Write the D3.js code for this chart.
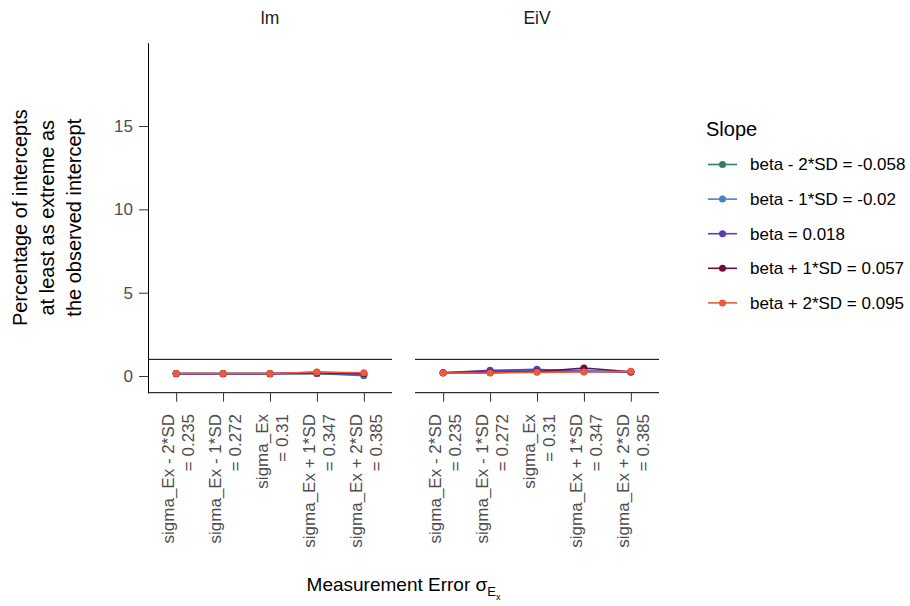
<!DOCTYPE html>
<html lang="en">
<head>
  <meta charset="utf-8">
  <title>Percentage of intercepts at least as extreme as observed</title>
  <script src="https://d3js.org/d3.v7.min.js"></script>
  <style>
    body { margin: 0; background: #fff; }
    text { font-family: "Liberation Sans", Arial, sans-serif; }
  </style>
</head>
<body>
  <div id="chart"></div>
  <script>
    // facet panels and x categories (measurement error levels)
    const panels = ["lm", "EiV"];
    const errLevels = ["m2", "m1", "mid", "p1", "p2"];
    const errLabels = [
      ["sigma_Ex - 2*SD", "= 0.235"],
      ["sigma_Ex - 1*SD", "= 0.272"],
      ["sigma_Ex", "= 0.31"],
      ["sigma_Ex + 1*SD", "= 0.347"],
      ["sigma_Ex + 2*SD", "= 0.385"]
    ];

    // slope groups (legend) and their colours
    const slopes = [
      "beta - 2*SD = -0.058",
      "beta - 1*SD = -0.02",
      "beta = 0.018",
      "beta + 1*SD = 0.057",
      "beta + 2*SD = 0.095"
    ];
    const slopeColors = ["#33805f", "#4a82bd", "#5a3cb6", "#6d0c40", "#ef5a38"];

    // percentages, one row per slope
    const lmPct = [
      [0.15, 0.15, 0.15, 0.15, 0.02],
      [0.15, 0.15, 0.15, 0.15, 0.1],
      [0.12, 0.12, 0.12, 0.15, 0.12],
      [0.15, 0.15, 0.15, 0.22, 0.15],
      [0.15, 0.15, 0.15, 0.24, 0.2]
    ];
    const eivPct = [
      [0.2, 0.2, 0.28, 0.3, 0.24],
      [0.2, 0.3, 0.36, 0.34, 0.24],
      [0.2, 0.34, 0.4, 0.26, 0.24],
      [0.2, 0.22, 0.26, 0.48, 0.26],
      [0.18, 0.18, 0.22, 0.24, 0.28]
    ];
    const refLine = 1;   // horizontal reference at 1 %
    const yTicks = [0, 5, 10, 15];

    const W = 910, H = 606;
    const svg = d3.select("#chart").append("svg")
      .attr("width", W).attr("height", H);

    const plotTop = 42.7, plotBottom = 392.7;
    const panelX = [[148, 392], [415, 659]];

    const y = d3.scaleLinear().domain([-1, 20]).range([plotBottom, plotTop]);

    const line = d3.line();

    panels.forEach(function(p, pi) {
      const x = d3.scalePoint().domain(errLevels)
        .range(panelX[pi]).padding(0.6);
      const g = svg.append("g");
      const data = pi === 0 ? lmPct : eivPct;

      // strip title
      g.append("text")
        .attr("x", (panelX[pi][0] + panelX[pi][1]) / 2)
        .attr("y", 24)
        .attr("text-anchor", "middle")
        .attr("font-size", 17.5)
        .attr("fill", "#1a1a1a")
        .text(p);

      // reference line
      g.append("line")
        .attr("x1", panelX[pi][0]).attr("x2", panelX[pi][1])
        .attr("y1", y(refLine)).attr("y2", y(refLine))
        .attr("stroke", "#000").attr("stroke-width", 1);

      // series
      data.forEach(function(vals, si) {
        const pts = vals.map((v, i) => [x(errLevels[i]), y(v)]);
        g.append("path")
          .attr("d", line(pts))
          .attr("fill", "none")
          .attr("stroke", slopeColors[si])
          .attr("stroke-width", 1.6);
        g.selectAll(null).data(pts).enter().append("circle")
          .attr("cx", d => d[0]).attr("cy", d => d[1])
          .attr("r", 3.5)
          .attr("fill", slopeColors[si]);
      });

      // x axis
      const xa = g.append("g").attr("transform", "translate(0," + plotBottom + ")")
        .call(d3.axisBottom(x).tickSize(9).tickSizeOuter(0).tickFormat(""));
      xa.select(".domain").attr("d", "M" + panelX[pi][0] + ",0H" + panelX[pi][1])
        .attr("stroke", "#000");
      xa.selectAll(".tick line").attr("stroke", "#333");

      // rotated two-line tick labels
      errLevels.forEach(function(k, i) {
        const t = g.append("text")
          .attr("transform", "translate(" + x(k) + ",414) rotate(-90)")
          .attr("text-anchor", "end")
          .attr("font-size", 17)
          .attr("fill", "#4d4d4d");
        t.append("tspan").attr("x", 0).attr("y", -2).text(errLabels[i][0]);
        t.append("tspan").attr("x", 0).attr("y", 18).text(errLabels[i][1]);
      });

      // y axis only on the first panel
      if (pi === 0) {
        const ya = g.append("g").attr("transform", "translate(" + panelX[0][0] + ",0)")
          .call(d3.axisLeft(y).tickValues(yTicks).tickSize(9).tickSizeOuter(0).tickPadding(6));
        ya.select(".domain").attr("stroke", "#000");
        ya.selectAll(".tick line").attr("stroke", "#333");
        ya.selectAll(".tick text")
          .attr("font-size", 17).attr("fill", "#4d4d4d")
          .attr("font-family", "Liberation Sans, Arial, sans-serif");
      }
    });

    // y axis title
    const yTitle = svg.append("text")
      .attr("transform", "translate(0," + ((plotTop + plotBottom) / 2) + ") rotate(-90)")
      .attr("text-anchor", "middle")
      .attr("font-size", 20)
      .attr("fill", "#000");
    ["Percentage of intercepts", "at least as extreme as", "the observed intercept"]
      .forEach(function(s, i) {
        yTitle.append("tspan").attr("x", 0).attr("y", 27 + i * 27).text(s);
      });

    // x axis title with subscript
    const xTitle = svg.append("text")
      .attr("x", (panelX[0][0] + panelX[1][1]) / 2)
      .attr("y", 591)
      .attr("text-anchor", "middle")
      .attr("font-size", 19)
      .attr("fill", "#000");
    xTitle.append("tspan").text("Measurement Error \u03C3");
    xTitle.append("tspan").attr("font-size", 13).attr("dy", 5).text("E");
    xTitle.append("tspan").attr("font-size", 9).attr("dy", 4).text("x");

    // legend
    const lg = svg.append("g");
    lg.append("text")
      .attr("x", 706).attr("y", 136)
      .attr("font-size", 20).attr("fill", "#000")
      .text("Slope");
    slopes.forEach(function(s, i) {
      const cy = 164.5 + i * 34.6;
      lg.append("line")
        .attr("x1", 708).attr("x2", 737)
        .attr("y1", cy).attr("y2", cy)
        .attr("stroke", slopeColors[i]).attr("stroke-width", 1.6);
      lg.append("circle")
        .attr("cx", 722.5).attr("cy", cy).attr("r", 3.5)
        .attr("fill", slopeColors[i]);
      lg.append("text")
        .attr("x", 750).attr("y", cy)
        .attr("dy", "0.35em")
        .attr("font-size", 17)
        .attr("fill", "#000")
        .text(s);
    });
  </script>
</body>
</html>
